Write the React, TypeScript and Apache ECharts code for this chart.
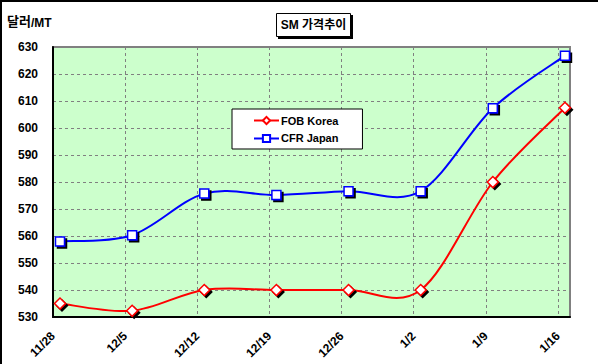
import React, { useEffect, useRef } from "react";
import * as echarts from "echarts";

const categories = ["11/28", "12/5", "12/12", "12/19", "12/26", "1/2", "1/9", "1/16"];
const fobKorea = [535, 532.3, 540, 540, 540, 540, 580, 607.5];
const cfrJapan = [558, 560.3, 575.7, 575.2, 576.6, 576.6, 607.3, 626.8];
const yTicks = { min: 530, max: 630, interval: 10 };
const X_OFF = 0.097;

export default function App() {
  const ref = useRef<HTMLDivElement>(null);
  useEffect(() => {
    const chart = echarts.init(ref.current!, null, { renderer: "svg" });
    const font = '"Liberation Sans", Arial, "Noto Sans CJK KR", sans-serif';
    const mk = (arr: number[]) => arr.map((v, i) => [i + X_OFF, v]);
    const curve = (arr: number[], color: string, name: string) => ({
      name,
      type: "custom",
      silent: true,
      z: 2,
      data: [[X_OFF, arr[0]]],
      renderItem: (_params: any, api: any) => {
        const pts = arr.map((v, i) => api.coord([i + X_OFF, v]));
        let d = `M${pts[0][0]},${pts[0][1]}`;
        for (let i = 0; i < pts.length - 1; i++) {
          const p0 = pts[i - 1] || pts[i];
          const p1 = pts[i];
          const p2 = pts[i + 1];
          const p3 = pts[i + 2] || pts[i + 1];
          const c1x = p1[0] + (p2[0] - p0[0]) / 6;
          const c1y = p1[1] + (p2[1] - p0[1]) / 6;
          const c2x = p2[0] - (p3[0] - p1[0]) / 6;
          const c2y = p2[1] - (p3[1] - p1[1]) / 6;
          d += ` C${c1x},${c1y} ${c2x},${c2y} ${p2[0]},${p2[1]}`;
        }
        return {
          type: "path",
          shape: { pathData: d },
          style: { stroke: color, lineWidth: 2, fill: "none" },
        };
      },
    });
    const markerSeries = (name: string, arr: number[], color: string, symbol: string, size: number) => ({
      name,
      type: "line",
      data: mk(arr),
      symbol,
      symbolSize: size,
      lineStyle: { color, width: 2, opacity: 0 },
      itemStyle: {
        color: "#ffffff",
        borderColor: color,
        borderWidth: 1.5,
        shadowColor: "#000",
        shadowOffsetX: 2,
        shadowOffsetY: 2,
        shadowBlur: 0,
      },
      z: 3,
    });
    chart.setOption({
      animation: false,
      backgroundColor: "#ffffff",
      textStyle: { fontFamily: font },
      grid: {
        left: 53,
        right: 28,
        top: 47,
        bottom: 47,
        containLabel: false,
        outerBoundsMode: "none",
        show: true,
        backgroundColor: "#CCFFCC",
        borderColor: "#808080",
        borderWidth: 2,
      },
      xAxis: {
        type: "value",
        min: 0,
        max: 7 + X_OFF + 0.07,
        interval: 1,
        axisLine: { show: true, onZero: false, lineStyle: { color: "#000", width: 2 } },
        axisTick: { show: false },
        axisLabel: {
          rotate: 45,
          margin: 17,
          color: "#000",
          fontWeight: "bold",
          fontSize: 12,
          fontFamily: font,
          formatter: (v: number) => {
            const k = Math.round(v);
            if (Math.abs(v - k) > 0.02) return "";
            return categories[k] ?? "";
          },
        },
        splitLine: { show: true, lineStyle: { color: "#808080", type: [3, 3], width: 1 } },
      },
      yAxis: {
        type: "value",
        min: yTicks.min,
        max: yTicks.max,
        interval: yTicks.interval,
        axisLine: { show: true, onZero: false, lineStyle: { color: "#000", width: 2 } },
        axisTick: { show: false },
        axisLabel: { color: "#000", fontWeight: "bold", fontSize: 12, margin: 15, fontFamily: font },
        splitLine: { show: true, lineStyle: { color: "#808080", type: [3, 3], width: 1 } },
      },
      legend: {
        left: 232,
        top: 109,
        orient: "vertical",
        backgroundColor: "#ffffff",
        borderColor: "#000",
        borderWidth: 1,
        borderRadius: 0,
        padding: [6, 24, 5, 21],
        itemWidth: 25,
        itemHeight: 9,
        itemGap: 7,
        lineStyle: { opacity: 1 },
        textStyle: { color: "#000", fontWeight: "bold", fontSize: 11, fontFamily: font, padding: [0, 0, 0, -3] },
        data: ["FOB Korea", "CFR Japan"],
      },
      graphic: [
        { type: "line", shape: { x1: 0, y1: 1, x2: 598, y2: 1 }, style: { stroke: "#000", lineWidth: 2 } },
        { type: "line", shape: { x1: 1, y1: 0, x2: 1, y2: 364 }, style: { stroke: "#000", lineWidth: 2 } },
        { type: "rect", shape: { x: 278, y: 15, width: 75, height: 24 }, style: { fill: "#000" } },
        { type: "rect", shape: { x: 276.5, y: 13.5, width: 74, height: 23 }, style: { fill: "#fff", stroke: "#000", lineWidth: 1 } },
        {
          type: "text",
          x: 313.5,
          y: 25,
          style: { text: "SM 가격추이", fill: "#000", font: `bold 12px ${font}`, align: "center", verticalAlign: "middle" },
        },
        {
          type: "text",
          x: 7,
          y: 21,
          style: {
            text: "{a|달러}{b|/MT}",
            verticalAlign: "middle",
            rich: {
              a: { fontSize: 13, fontWeight: "bold", fill: "#000", fontFamily: font },
              b: { fontSize: 12, fontWeight: "bold", fill: "#000", fontFamily: font, padding: [3, 0, 0, 0] },
            },
          },
        },
      ],
      series: [
        curve(fobKorea, "#FF0000", "fob-curve"),
        curve(cfrJapan, "#0000FF", "cfr-curve"),
        markerSeries("FOB Korea", fobKorea, "#FF0000", "diamond", 11),
        markerSeries("CFR Japan", cfrJapan, "#0000FF", "rect", 9),
      ],
    });
    return () => chart.dispose();
  }, []);
  return <div ref={ref} style={{ position: "fixed", left: 0, top: 0, width: 598, height: 364 }} />;
}
